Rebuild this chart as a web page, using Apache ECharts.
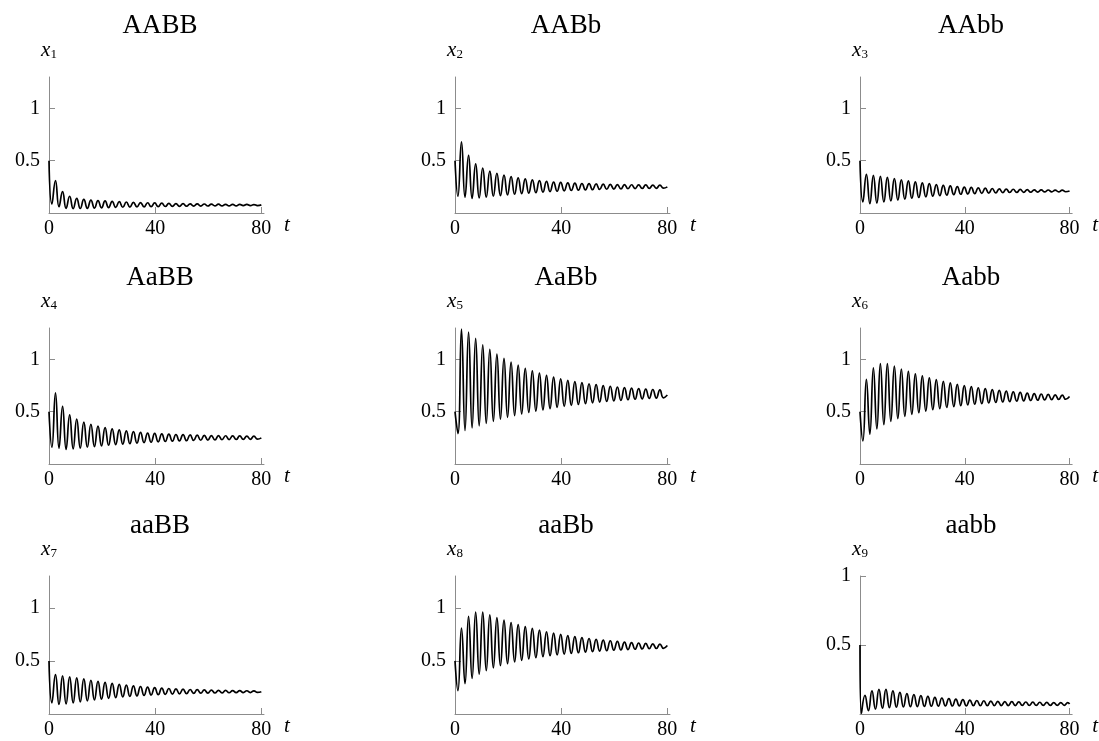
<!DOCTYPE html>
<html><head><meta charset="utf-8">
<script src="https://cdn.jsdelivr.net/npm/echarts@6/dist/echarts.min.js"></script>
<style>html,body{margin:0;padding:0;background:#fff}#c{width:1099px;height:741px}</style>
</head><body><div id="c"></div>
<script>
// ---- data ----
const panelTitles = ['AABB', 'AABb', 'AAbb', 'AaBB', 'AaBb', 'Aabb', 'aaBB', 'aaBb', 'aabb'];
const ySubscripts = ['1', '2', '3', '4', '5', '6', '7', '8', '9'];
const xTickValues = [0, 40, 80];
const yTickValues = [0.5, 1];
const yMaxes = [1.3, 1.3, 1.3, 1.3, 1.3, 1.3, 1.3, 1.3, 1];

// times of the turning points (start, alternating trough / peak, end)
const times = [0, 1.1, 2.44, 3.77, 5.11, 6.44, 7.78, 9.11, 10.45, 11.78, 13.12, 14.45, 15.79, 17.12, 18.46, 19.79, 21.13, 22.46, 23.8, 25.13, 26.47, 27.8, 29.14, 30.47, 31.81, 33.14, 34.48, 35.81, 37.15, 38.48, 39.82, 41.15, 42.49, 43.82, 45.16, 46.49, 47.83, 49.16, 50.5, 51.83, 53.17, 54.5, 55.84, 57.17, 58.51, 59.84, 61.18, 62.51, 63.85, 65.18, 66.52, 67.85, 69.19, 70.52, 71.86, 73.19, 74.53, 75.86, 77.2, 78.53, 80];
const timesAabb = [0, 0.55, 1.89, 3.22, 4.56, 5.89, 7.23, 8.56, 9.9, 11.23, 12.57, 13.9, 15.24, 16.57, 17.91, 19.24, 20.58, 21.91, 23.25, 24.58, 25.92, 27.25, 28.59, 29.92, 31.26, 32.59, 33.93, 35.26, 36.6, 37.93, 39.27, 40.6, 41.94, 43.27, 44.61, 45.94, 47.28, 48.61, 49.95, 51.28, 52.62, 53.95, 55.29, 56.62, 57.96, 59.29, 60.63, 61.96, 63.3, 64.63, 65.97, 67.3, 68.64, 69.97, 71.31, 72.64, 73.98, 75.31, 76.65, 77.98, 79.32, 80];

const x1 = [0.5,
  0.085, 0.31, 0.06, 0.205, 0.045, 0.16, 0.042, 0.14, 0.043, 0.13,
  0.045, 0.124, 0.047, 0.119, 0.049, 0.115, 0.051, 0.111, 0.053, 0.108,
  0.055, 0.105, 0.056, 0.102, 0.058, 0.1, 0.059, 0.098, 0.06, 0.096,
  0.061, 0.094, 0.062, 0.092, 0.063, 0.09, 0.064, 0.089, 0.065, 0.088,
  0.066, 0.087, 0.066, 0.086, 0.067, 0.085, 0.068, 0.084, 0.068, 0.083,
  0.069, 0.083, 0.069, 0.082, 0.07, 0.082, 0.07, 0.081,
  0.071, 0.078];
const x2 = [0.5,
  0.16, 0.68, 0.15, 0.55, 0.14, 0.47, 0.145, 0.43, 0.152, 0.4,
  0.16, 0.38, 0.167, 0.362, 0.173, 0.348, 0.179, 0.336, 0.185, 0.326,
  0.19, 0.317, 0.195, 0.309, 0.2, 0.302, 0.204, 0.296, 0.208, 0.292,
  0.212, 0.288, 0.215, 0.285, 0.218, 0.282, 0.221, 0.28, 0.223, 0.278,
  0.225, 0.276, 0.227, 0.274, 0.229, 0.272, 0.23, 0.271, 0.232, 0.27,
  0.233, 0.269, 0.234, 0.268, 0.235, 0.267, 0.236, 0.266,
  0.237, 0.25];
const x3 = [0.5,
  0.105, 0.37, 0.09, 0.36, 0.095, 0.35, 0.105, 0.34, 0.115, 0.33,
  0.124, 0.318, 0.133, 0.307, 0.141, 0.297, 0.148, 0.288, 0.155, 0.28,
  0.161, 0.272, 0.166, 0.265, 0.171, 0.259, 0.175, 0.253, 0.179, 0.248,
  0.182, 0.244, 0.185, 0.24, 0.188, 0.237, 0.19, 0.234, 0.192, 0.231,
  0.194, 0.229, 0.196, 0.227, 0.197, 0.225, 0.198, 0.223, 0.199, 0.222,
  0.2, 0.221, 0.201, 0.22, 0.202, 0.219, 0.202, 0.218,
  0.203, 0.21];
const x4 = [0.5,
  0.16, 0.68, 0.15, 0.55, 0.14, 0.47, 0.145, 0.43, 0.152, 0.4,
  0.16, 0.38, 0.167, 0.362, 0.173, 0.348, 0.179, 0.336, 0.185, 0.326,
  0.19, 0.317, 0.195, 0.309, 0.2, 0.302, 0.204, 0.296, 0.208, 0.292,
  0.212, 0.288, 0.215, 0.285, 0.218, 0.282, 0.221, 0.28, 0.223, 0.278,
  0.225, 0.276, 0.227, 0.274, 0.229, 0.272, 0.23, 0.271, 0.232, 0.27,
  0.233, 0.269, 0.234, 0.268, 0.235, 0.267, 0.236, 0.266,
  0.237, 0.25];
const x5 = [0.5,
  0.29, 1.29, 0.32, 1.26, 0.345, 1.2, 0.365, 1.14, 0.388, 1.095,
  0.408, 1.05, 0.428, 1.01, 0.446, 0.975, 0.463, 0.945, 0.478, 0.915,
  0.493, 0.89, 0.506, 0.868, 0.518, 0.848, 0.53, 0.83, 0.541, 0.815,
  0.551, 0.8, 0.56, 0.788, 0.569, 0.777, 0.577, 0.767, 0.585, 0.758,
  0.592, 0.75, 0.598, 0.743, 0.604, 0.736, 0.609, 0.73, 0.614, 0.725,
  0.619, 0.72, 0.623, 0.716, 0.627, 0.712, 0.63, 0.709,
  0.633, 0.66];
const x6 = [0.5,
  0.22, 0.81, 0.285, 0.92, 0.335, 0.96, 0.375, 0.96, 0.408, 0.935,
  0.434, 0.908, 0.456, 0.885, 0.475, 0.862, 0.491, 0.842, 0.506, 0.823,
  0.519, 0.806, 0.53, 0.79, 0.54, 0.775, 0.549, 0.762, 0.557, 0.75,
  0.564, 0.739, 0.571, 0.729, 0.577, 0.72, 0.583, 0.711, 0.588, 0.703,
  0.593, 0.696, 0.597, 0.69, 0.601, 0.684, 0.604, 0.678, 0.607, 0.673,
  0.61, 0.669, 0.613, 0.665, 0.615, 0.661, 0.617, 0.658,
  0.619, 0.645];
const x7 = [0.5,
  0.105, 0.37, 0.09, 0.36, 0.095, 0.35, 0.105, 0.34, 0.115, 0.33,
  0.124, 0.318, 0.133, 0.307, 0.141, 0.297, 0.148, 0.288, 0.155, 0.28,
  0.161, 0.272, 0.166, 0.265, 0.171, 0.259, 0.175, 0.253, 0.179, 0.248,
  0.182, 0.244, 0.185, 0.24, 0.188, 0.237, 0.19, 0.234, 0.192, 0.231,
  0.194, 0.229, 0.196, 0.227, 0.197, 0.225, 0.198, 0.223, 0.199, 0.222,
  0.2, 0.221, 0.201, 0.22, 0.202, 0.219, 0.202, 0.218,
  0.203, 0.21];
const x8 = [0.5,
  0.22, 0.81, 0.285, 0.92, 0.335, 0.96, 0.375, 0.96, 0.408, 0.935,
  0.434, 0.908, 0.456, 0.885, 0.475, 0.862, 0.491, 0.842, 0.506, 0.823,
  0.519, 0.806, 0.53, 0.79, 0.54, 0.775, 0.549, 0.762, 0.557, 0.75,
  0.564, 0.739, 0.571, 0.729, 0.577, 0.72, 0.583, 0.711, 0.588, 0.703,
  0.593, 0.696, 0.597, 0.69, 0.601, 0.684, 0.604, 0.678, 0.607, 0.673,
  0.61, 0.669, 0.613, 0.665, 0.615, 0.661, 0.617, 0.658,
  0.619, 0.645];
const x9 = [0.5,
  0.005, 0.135, 0.025, 0.168, 0.035, 0.178, 0.042, 0.178, 0.046, 0.168,
  0.049, 0.157, 0.051, 0.148, 0.053, 0.14, 0.054, 0.133, 0.055, 0.127,
  0.056, 0.121, 0.057, 0.116, 0.058, 0.112, 0.058, 0.108, 0.059, 0.104,
  0.059, 0.101, 0.06, 0.098, 0.06, 0.096, 0.06, 0.094, 0.061, 0.092,
  0.061, 0.09, 0.061, 0.089, 0.061, 0.088, 0.062, 0.087, 0.062, 0.086,
  0.062, 0.085, 0.062, 0.084, 0.062, 0.083, 0.063, 0.083, 0.063, 0.082,
  0.072];

const seriesValues = [x1, x2, x3, x4, x5, x6, x7, x8, x9];
const seriesTimes = [times, times, times, times, times, times, times, times, timesAabb];

// ---- layout ----
const colLeft = [49, 455, 860];
const rowTop = [77, 328, 576];
const rowHeight = [136, 136, 138];
const plotWidth = 215;
const titleTop = [7, 259, 507];
const FONT = 'Liberation Serif';
const AXIS_COLOR = '#8c8c8c';

const grids = [], xAxes = [], yAxes = [], series = [], titles = [];
for (let i = 0; i < 9; i++) {
  const r = Math.floor(i / 3), c = i % 3;
  grids.push({ left: colLeft[c], top: rowTop[r], width: plotWidth, height: rowHeight[r], containLabel: false });
  titles.push({
    text: panelTitles[i], left: colLeft[c] + 106, top: titleTop[r], textAlign: 'center',
    textStyle: { fontFamily: FONT, fontSize: 27, fontWeight: 'normal', color: '#000' }
  });
  xAxes.push({
    type: 'value', gridIndex: i, min: 0, max: 81,
    name: 't', nameLocation: 'end', nameGap: 20,
    nameTextStyle: { fontFamily: FONT, fontStyle: 'italic', fontSize: 21, color: '#000', verticalAlign: 'top', padding: [2, 0, 0, 0] },
    axisLine: { show: true, onZero: false, lineStyle: { color: AXIS_COLOR, width: 1 } },
    axisTick: { show: true, inside: true, length: 6, customValues: xTickValues, lineStyle: { color: AXIS_COLOR } },
    axisLabel: { customValues: xTickValues, fontFamily: FONT, fontSize: 20, color: '#000', margin: 6 },
    splitLine: { show: false }
  });
  yAxes.push({
    type: 'value', gridIndex: i, min: 0, max: yMaxes[i],
    name: '{x|x}{s|' + ySubscripts[i] + '}', nameLocation: 'end', nameGap: 16,
    nameTextStyle: {
      align: 'center',
      rich: {
        x: { fontFamily: FONT, fontStyle: 'italic', fontSize: 21, color: '#000', lineHeight: 22 },
        s: { fontFamily: FONT, fontSize: 13, color: '#000', lineHeight: 22, verticalAlign: 'bottom', padding: [6, 0, 0, 0] }
      }
    },
    axisLine: { show: true, onZero: false, lineStyle: { color: AXIS_COLOR, width: 1 } },
    axisTick: { show: true, inside: true, length: 6, customValues: yTickValues, lineStyle: { color: AXIS_COLOR } },
    axisLabel: {
      customValues: yTickValues, fontFamily: FONT, fontSize: 20, color: '#000', margin: 9,
      formatter: v => (Math.abs(v - 1) < 1e-9 ? '1' : String(v))
    },
    splitLine: { show: false }
  });
  const tt = seriesTimes[i], vv = seriesValues[i];
  series.push({
    type: 'line', xAxisIndex: i, yAxisIndex: i, showSymbol: false, smooth: 0.5,
    lineStyle: { color: '#000', width: 1.7 }, animation: false,
    data: tt.map((t, k) => [t, vv[k]])
  });
}

const chart = echarts.init(document.getElementById('c'), null, { renderer: 'canvas' });
chart.setOption({ animation: false, backgroundColor: '#fff', title: titles, grid: grids, xAxis: xAxes, yAxis: yAxes, series: series });
</script></body></html>
